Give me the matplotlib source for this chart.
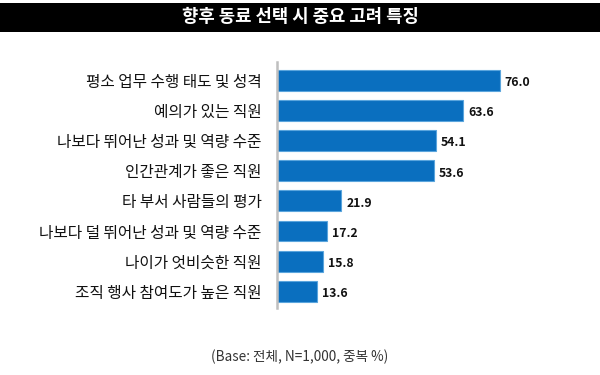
import matplotlib
matplotlib.use("Agg")
import matplotlib.pyplot as plt

plt.rcParams['font.family'] = ['Noto Sans CJK KR', 'DejaVu Sans']

title = '향후 동료 선택 시 중요 고려 특징'
labels = ['평소 업무 수행 태도 및 성격', '예의가 있는 직원', '나보다 뛰어난 성과 및 역량 수준',
          '인간관계가 좋은 직원', '타 부서 사람들의 평가', '나보다 덜 뛰어난 성과 및 역량 수준',
          '나이가 엇비슷한 직원', '조직 행사 참여도가 높은 직원']
values = [76.0, 63.6, 54.1, 53.6, 21.9, 17.2, 15.8, 13.6]
footnote = '(Base: 전체, N=1,000, 중복 %)'

fig = plt.figure(figsize=(6, 3.75), dpi=100)
fig.patch.set_facecolor('white')

# black title band
band = fig.add_axes([0, 1 - 32 / 375, 1, 29 / 375])
band.set_facecolor('black')
band.set_xticks([])
band.set_yticks([])
for s in band.spines.values():
    s.set_visible(False)
band.text(0.5, 0.5, title, color='white', fontsize=12.8, fontweight='bold',
          ha='center', va='center', transform=band.transAxes)

ax = fig.add_axes([277 / 600, 1 - 308 / 375, 293 / 600, 246 / 375])
y = range(len(labels))
ax.barh(y, values, height=0.69, color='#0A6FBF', edgecolor='#5AA5DD', linewidth=0.8)
ax.set_xlim(0, 100)
ax.set_ylim(len(labels) - 0.45, -0.6)
ax.set_yticks(list(y))
ax.set_yticklabels(labels, fontsize=11.3, color='#111111')
ax.tick_params(axis='y', length=0, pad=11)
ax.set_xticks([])
for name in ['top', 'right', 'bottom']:
    ax.spines[name].set_visible(False)
ax.spines['left'].set_color('#BFBFBF')
ax.spines['left'].set_linewidth(1.8)

for i, v in enumerate(values):
    ax.text(v + 1.7, i + 0.08, f'{v:.1f}', va='center', ha='left',
            fontsize=8.8, fontweight='bold', color='#111111')

fig.text(0.5, 1 - 357 / 375, footnote, ha='center', va='center', fontsize=9.8,
         color='#333333', fontweight='light')

fig.savefig('out.png', dpi=100)
